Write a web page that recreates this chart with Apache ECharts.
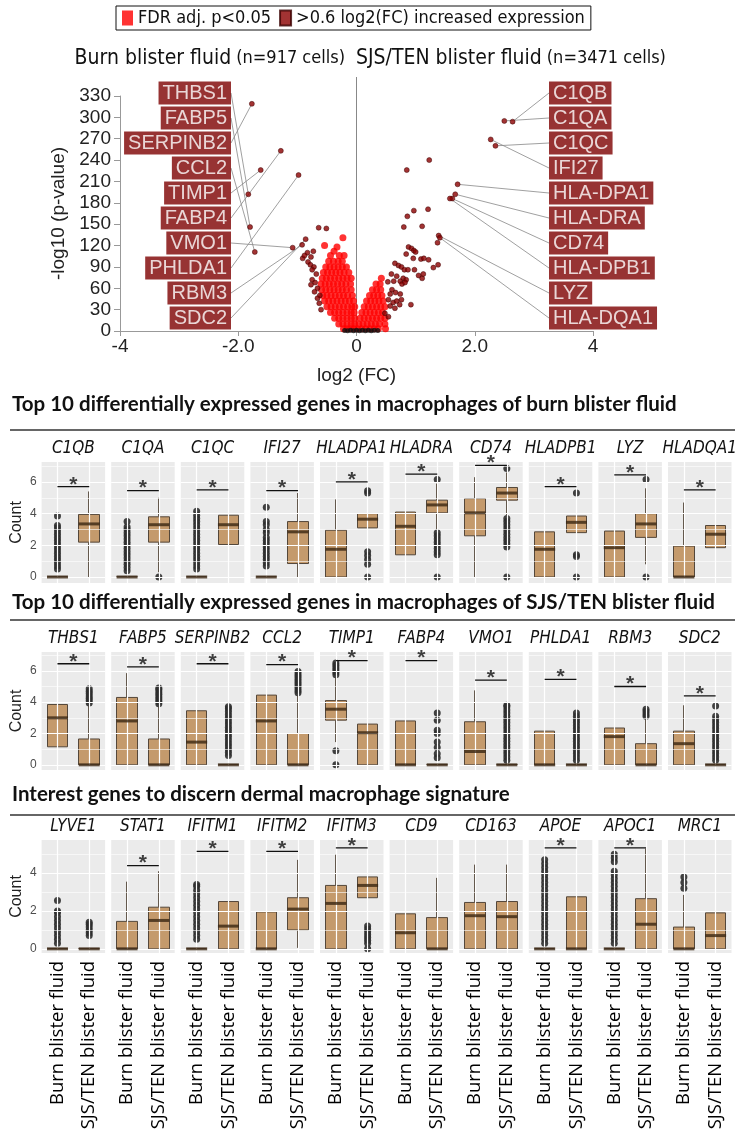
<!DOCTYPE html>
<html>
<head>
<meta charset="utf-8">
<script src="https://cdn.jsdelivr.net/npm/echarts@6/dist/echarts.min.js"></script>
<style>
html, body { margin: 0; padding: 0; background: #fff; }
#main { width: 741px; height: 1140px; }
</style>
</head>
<body>
<div id="main"></div>
<script>
// ---------- volcano data ----------
var legendNames = ['FDR adj. p<0.05', '>0.6 log2(FC) increased expression'];
var volcanoTitles = ['Burn blister fluid', '(n=917 cells)', 'SJS/TEN blister fluid', '(n=3471 cells)'];
var xTickLabels = ['-4', '-2.0', '0', '2.0', '4'];

var leftGenes = ['THBS1', 'FABP5', 'SERPINB2', 'CCL2', 'TIMP1', 'FABP4', 'VMO1', 'PHLDA1', 'RBM3', 'SDC2'];
var leftFC = [-1.83, -1.80, -1.77, -1.72, -1.62, -1.28, -1.08, -0.98, -0.92, -0.86];
var leftP = [192, 146, 319, 111, 226, 253, 117, 219, 121, 129];

var rightGenes = ['C1QB', 'C1QA', 'C1QC', 'IFI27', 'HLA-DPA1', 'HLA-DRA', 'CD74', 'HLA-DPB1', 'LYZ', 'HLA-DQA1'];
var rightFC = [2.64, 2.50, 2.35, 2.27, 1.71, 1.67, 1.62, 1.58, 1.39, 1.41];
var rightP = [294, 295, 260, 269, 206, 192, 186, 186, 134, 131];

// unlabeled points with |log2FC| > 0.6
var upPoints = [
  [-0.64, 145], [-0.51, 144], [-0.73, 112], [-0.91, 102], [-0.77, 104], [-0.83, 110], [-0.88, 106],
  [-0.82, 97], [-0.78, 93], [-0.72, 90], [-0.75, 86], [-0.68, 80], [-0.75, 72], [-0.70, 68],
  [-0.77, 65], [-0.66, 60], [-0.71, 55], [-0.62, 50], [-0.66, 46], [-0.63, 39], [-0.60, 30],
  [1.23, 240], [0.85, 226], [0.97, 169], [1.21, 171], [0.86, 161], [1.11, 147], [0.80, 146],
  [1.37, 124], [0.88, 118], [0.93, 116], [0.97, 113], [1.00, 111], [0.84, 108], [0.96, 102],
  [1.09, 101], [1.14, 102], [1.22, 100], [1.30, 89], [1.38, 93], [0.65, 95], [0.71, 92],
  [0.76, 90], [0.81, 86], [0.87, 86], [0.98, 86], [0.59, 80], [0.68, 77], [0.79, 74],
  [0.84, 72], [1.05, 78], [1.11, 74], [1.13, 80], [0.53, 69], [0.63, 70], [0.74, 70],
  [0.77, 66], [0.82, 68], [0.60, 58], [0.66, 54], [0.74, 52], [0.57, 52], [0.54, 44],
  [0.62, 40], [0.68, 42], [0.76, 44], [0.57, 35], [0.65, 32], [0.73, 37], [0.92, 37],
  [0.48, 25], [0.54, 20]
];

// FDR significant points
var sigPoints = [
  [-0.22, 3], [-0.16, 3], [-0.10, 3], [-0.04, 3],
  [-0.30, 10], [-0.23, 10], [-0.16, 10], [-0.09, 10], [-0.03, 10],
  [-0.37, 18], [-0.30, 18], [-0.23, 18], [-0.16, 18], [-0.09, 18], [-0.03, 18],
  [-0.44, 26], [-0.37, 26], [-0.30, 26], [-0.23, 26], [-0.16, 26], [-0.09, 26], [-0.04, 26],
  [-0.50, 34], [-0.43, 34], [-0.36, 34], [-0.29, 34], [-0.22, 34], [-0.15, 34], [-0.08, 34], [-0.03, 34],
  [-0.54, 42], [-0.47, 42], [-0.40, 42], [-0.33, 42], [-0.26, 42], [-0.19, 42], [-0.12, 42], [-0.05, 42],
  [-0.57, 50], [-0.50, 50], [-0.43, 50], [-0.36, 50], [-0.29, 50], [-0.22, 50], [-0.15, 50], [-0.07, 50],
  [-0.59, 58], [-0.52, 58], [-0.45, 58], [-0.38, 58], [-0.31, 58], [-0.24, 58], [-0.17, 58], [-0.09, 58],
  [-0.60, 66], [-0.53, 66], [-0.46, 66], [-0.39, 66], [-0.32, 66], [-0.25, 66], [-0.18, 66], [-0.10, 66],
  [-0.58, 74], [-0.51, 74], [-0.44, 74], [-0.37, 74], [-0.30, 74], [-0.23, 74], [-0.16, 74], [-0.09, 74],
  [-0.56, 82], [-0.49, 82], [-0.42, 82], [-0.35, 82], [-0.28, 82], [-0.21, 82], [-0.13, 82],
  [-0.52, 90], [-0.45, 90], [-0.38, 90], [-0.31, 90], [-0.24, 90], [-0.17, 90],
  [-0.47, 98], [-0.39, 98], [-0.31, 98], [-0.24, 98],
  [-0.44, 106], [-0.29, 106], [-0.21, 106], [-0.38, 112],
  [-0.54, 120], [-0.33, 118], [-0.23, 131],
  [0.02, 3], [0.09, 3], [0.16, 3], [0.23, 3], [0.30, 3], [0.37, 3], [0.49, 3],
  [0.04, 10], [0.11, 10], [0.18, 10], [0.25, 10], [0.32, 10], [0.39, 10], [0.48, 10],
  [0.06, 18], [0.13, 18], [0.20, 18], [0.27, 18], [0.34, 18], [0.41, 18], [0.48, 18],
  [0.09, 26], [0.16, 26], [0.23, 26], [0.30, 26], [0.37, 26], [0.44, 26],
  [0.13, 34], [0.20, 34], [0.27, 34], [0.34, 34], [0.41, 34], [0.48, 34],
  [0.17, 42], [0.24, 42], [0.31, 42], [0.38, 42], [0.45, 42],
  [0.22, 50], [0.29, 50], [0.36, 50], [0.43, 50],
  [0.27, 58], [0.34, 58], [0.41, 58],
  [0.33, 66], [0.40, 66], [0.42, 74]
];

// not significant
var nsPoints = [
  [-0.20, 0.8], [-0.15, 0.5], [-0.10, 1], [-0.05, 0.5], [0, 1], [0.05, 0.5],
  [0.10, 1], [0.15, 0.5], [0.20, 1], [0.25, 0.5], [0.30, 1], [0.36, 0.6]
];

// ---------- box plot data: [min, Q1, median, Q3, max] ----------
var groups = ['Burn blister fluid', 'SJS/TEN blister fluid'];

var row1Title = 'Top 10 differentially expressed genes in macrophages of burn blister fluid';
var row1Genes = ['C1QB', 'C1QA', 'C1QC', 'IFI27', 'HLADPA1', 'HLADRA', 'CD74', 'HLADPB1', 'LYZ', 'HLADQA1'];
var row1Burn = [[0, 0, 0, 0, 0], [0, 0, 0, 0, 0], [0, 0, 0, 0, 0], [0, 0, 0, 0, 0], [0, 0, 1.75, 2.95, 4.9],
  [0, 1.4, 3.2, 4.1, 5.5], [0, 2.6, 4.05, 4.95, 6.3], [0, 0, 1.75, 2.85, 4.8], [0, 0, 1.85, 2.9, 5.3], [0, 0, 0, 1.95, 4.7]];
var row1Sjs = [[0, 2.2, 3.35, 3.95, 5.4], [0.3, 2.2, 3.3, 3.8, 5.0], [0, 2.05, 3.3, 3.9, 5.3], [0, 0.85, 2.85, 3.5, 5.3],
  [2.0, 3.1, 3.65, 4.0, 5.2], [3.0, 4.05, 4.55, 4.85, 5.9], [3.9, 4.85, 5.3, 5.65, 6.6], [1.6, 2.8, 3.45, 3.85, 5.0],
  [0.8, 2.5, 3.35, 4.0, 5.6], [0, 1.85, 2.7, 3.25, 5.2]];
var row1BurnOut = [
  [0.5, 0.7, 0.9, 1.1, 1.3, 1.5, 1.7, 1.9, 2.1, 2.3, 2.5, 2.7, 2.9, 3.1, 3.25, 3.85],
  [0.4, 0.6, 0.8, 1.0, 1.2, 1.4, 1.6, 1.8, 2.0, 2.2, 2.4, 2.6, 2.8, 3.0, 3.15, 3.5],
  [0.5, 0.7, 0.9, 1.1, 1.3, 1.5, 1.7, 1.9, 2.1, 2.3, 2.5, 2.7, 2.9, 3.1, 3.3, 3.5, 3.7, 3.9, 4.15],
  [0.7, 0.9, 1.1, 1.3, 1.5, 1.7, 1.9, 2.1, 2.3, 2.5, 2.8, 3.0, 3.3, 3.5, 4.4],
  [], [], [], [], [], []];
var row1SjsOut = [[], [0], [], [], [0, 0.8, 1.1, 1.35, 1.6, 5.3, 5.45],
  [0, 1.4, 1.6, 1.8, 2.0, 2.2, 2.4, 2.6, 2.8, 6.15],
  [0, 1.9, 2.1, 2.3, 2.5, 2.7, 2.9, 3.1, 3.3, 3.5, 3.7, 6.85],
  [0, 1.3, 1.4, 5.3], [0, 6.15], []];
var row1Bars = [5.7, 5.45, 5.5, 5.45, 6.0, 6.5, 7.05, 5.7, 6.45, 5.5];

var row2Title = 'Top 10 differentially expressed genes in macrophages of SJS/TEN blister fluid';
var row2Genes = ['THBS1', 'FABP5', 'SERPINB2', 'CCL2', 'TIMP1', 'FABP4', 'VMO1', 'PHLDA1', 'RBM3', 'SDC2'];
var row2Burn = [[0.05, 1.15, 3.0, 3.85, 6.35], [0, 0, 2.8, 4.3, 5.85], [0, 0, 1.45, 3.45, 6.25], [0, 0, 2.8, 4.45, 6.8],
  [1.45, 2.85, 3.55, 4.1, 5.65], [0, 0, 0, 2.8, 6.4], [0, 0, 0.85, 2.75, 4.75], [0, 0, 0, 2.15, 4.6],
  [0, 0, 1.8, 2.35, 4.35], [0, 0, 1.35, 2.15, 3.8]];
var row2Sjs = [[0, 0, 0, 1.65, 3.9], [0, 0, 0, 1.65, 3.85], [0, 0, 0, 0, 0], [0, 0, 0, 2.0, 4.5], [0, 0, 2.05, 2.6, 4.75],
  [0, 0, 0, 0, 0], [0, 0, 0, 0, 0], [0, 0, 0, 0, 0], [0, 0, 0, 1.35, 3.0], [0, 0, 0, 0, 0]];
var row2BurnOut = [[], [], [], [], [0, 0.9, 5.75, 5.9, 6.05, 6.2, 6.35, 6.5], [], [], [], [], []];
var row2SjsOut = [
  [3.95, 4.1, 4.25, 4.4, 4.55, 4.7, 4.85],
  [3.9, 4.05, 4.2, 4.35, 4.5, 4.65, 4.8, 4.9],
  [0.6, 0.8, 1.0, 1.2, 1.4, 1.6, 1.8, 2.0, 2.2, 2.4, 2.6, 2.8, 3.0, 3.2, 3.4, 3.6, 3.7],
  [4.6, 4.75, 4.9, 5.05, 5.2, 5.35, 5.5, 5.65, 5.8, 5.95],
  [],
  [0.45, 0.7, 1.1, 1.45, 2.0, 2.2, 2.85, 3.3],
  [0.3, 0.5, 0.7, 0.9, 1.1, 1.3, 1.5, 1.7, 1.9, 2.1, 2.3, 2.5, 2.7, 2.9, 3.1, 3.3, 3.5, 3.7, 3.8],
  [0.3, 0.5, 0.7, 0.9, 1.1, 1.3, 1.5, 1.7, 1.9, 2.1, 2.3, 2.5, 2.7, 2.9, 3.1, 3.3],
  [3.1, 3.25, 3.4, 3.55],
  [0.3, 0.5, 0.7, 0.9, 1.1, 1.3, 1.5, 1.7, 1.9, 2.1, 2.3, 2.5, 2.7, 2.9, 3.1, 3.75]];
var row2Bars = [6.45, 6.25, 6.45, 6.4, 6.65, 6.65, 5.4, 5.45, 5.0, 4.4];

var row3Title = 'Interest genes to discern dermal macrophage signature';
var row3Genes = ['LYVE1', 'STAT1', 'IFITM1', 'IFITM2', 'IFITM3', 'CD9', 'CD163', 'APOE', 'APOC1', 'MRC1'];
var row3Burn = [[0, 0, 0, 0, 0], [0, 0, 0, 1.45, 3.55], [0, 0, 0, 0, 0], [0, 0, 0, 1.95, 3.8], [0, 0, 2.4, 3.35, 5.0],
  [0, 0, 0.85, 1.85, 3.8], [0, 0, 1.75, 2.45, 4.45], [0, 0, 0, 0, 0], [0, 0, 0, 0, 0], [0, 0, 0, 1.15, 2.85]];
var row3Sjs = [[0, 0, 0, 0, 0], [0, 0, 1.5, 2.2, 4.1], [0, 0, 1.2, 2.5, 4.8], [0.05, 1.0, 2.1, 2.7, 4.7], [1.35, 2.7, 3.35, 3.8, 5.2],
  [0, 0, 0, 1.65, 3.75], [0, 0, 1.7, 2.5, 4.45], [0, 0, 0, 2.75, 5.3], [0, 0, 1.3, 2.65, 5.3], [0, 0, 0.7, 1.9, 3.85]];
var row3BurnOut = [
  [0.3, 0.5, 0.7, 0.9, 1.1, 1.3, 1.5, 1.7, 1.9, 2.0, 2.55],
  [],
  [0.5, 0.7, 0.9, 1.1, 1.3, 1.5, 1.7, 1.9, 2.1, 2.3, 2.5, 2.7, 2.9, 3.1, 3.3, 3.4],
  [], [], [], [],
  [0.3, 0.5, 0.7, 0.9, 1.1, 1.3, 1.5, 1.7, 1.9, 2.1, 2.3, 2.5, 2.7, 2.9, 3.1, 3.3, 3.5, 3.7, 3.9, 4.1, 4.3, 4.5, 4.7],
  [0.3, 0.5, 0.7, 0.9, 1.1, 1.3, 1.5, 1.7, 1.9, 2.1, 2.3, 2.5, 2.7, 2.9, 3.1, 3.3, 3.5, 3.7, 3.9, 4.1, 4.6, 4.8, 5.0],
  [3.2, 3.5, 3.8]];
var row3SjsOut = [[0.7, 0.85, 1.0, 1.15, 1.3, 1.4], [], [], [], [0, 0.3, 0.45, 0.6, 0.75, 0.9, 1.05, 1.2], [], [], [], [], []];
var row3Bars = [null, 4.4, 5.15, 5.15, 5.33, null, null, 5.33, 5.33, null];

// ---------- layout ----------
var NARROW = "'DejaVu Sans Condensed', 'Liberation Sans', sans-serif";
var ARIAL = "'Liberation Sans', Arial, sans-serif";
var panelLeft = 41.6, panelPitch = 69.6, panelWidth = 63.5;
var rowTop = [462, 652, 840];
var rowBottom = [583, 770, 953];
var rowYMin = [-0.38, -0.33, -0.22];
var rowYMax = [7.26, 7.2, 5.75];
var rowTicks = [[0, 2, 4, 6], [0, 2, 4, 6], [0, 2, 4]];
var rowMinor = [[1, 3, 5, 7], [1, 3, 5, 7], [1, 3, 5]];
var sectionTop = [394, 592, 784];
var underlineY = [430, 620, 815];

var rows = [
  {title: row1Title, genes: row1Genes, burn: row1Burn, sjs: row1Sjs, burnOut: row1BurnOut, sjsOut: row1SjsOut, bars: row1Bars},
  {title: row2Title, genes: row2Genes, burn: row2Burn, sjs: row2Sjs, burnOut: row2BurnOut, sjsOut: row2SjsOut, bars: row2Bars},
  {title: row3Title, genes: row3Genes, burn: row3Burn, sjs: row3Sjs, burnOut: row3BurnOut, sjsOut: row3SjsOut, bars: row3Bars}
];

var myChart = echarts.init(document.getElementById('main'));

var grids = [
  {left: 120, width: 473, top: 96, bottom: 809},
  {left: 120, width: 473, top: 77, bottom: 809}
];
var xAxes = [
  {
    gridIndex: 0, type: 'value', min: -4, max: 4, interval: 2,
    name: 'log2 (FC)', nameLocation: 'middle', nameGap: 35,
    nameTextStyle: {fontFamily: ARIAL, fontSize: 19, color: '#222'},
    axisLine: {onZero: false, lineStyle: {color: '#999'}},
    axisTick: {length: 5, lineStyle: {color: '#999'}},
    axisLabel: {
      fontFamily: ARIAL, fontSize: 19, color: '#222', margin: 6,
      formatter: function (v) { return xTickLabels[Math.round((v + 4) / 2)]; }
    },
    splitLine: {show: false}
  },
  {gridIndex: 1, type: 'value', min: -4, max: 4, show: false}
];
var yAxes = [
  {
    gridIndex: 0, type: 'value', min: 0, max: 330, interval: 30,
    name: '-log10 (p-value)', nameLocation: 'middle', nameGap: 35,
    nameTextStyle: {fontFamily: ARIAL, fontSize: 19, color: '#222'},
    axisLine: {show: true, onZero: false, lineStyle: {color: '#999'}},
    axisTick: {show: true, length: 6, lineStyle: {color: '#999'}},
    axisLabel: {fontFamily: ARIAL, fontSize: 19, color: '#222', margin: 9},
    splitLine: {show: false}
  },
  {gridIndex: 1, type: 'value', min: 0, max: 1, show: false}
];

function labeledSeries(genes, fc, p, side) {
  return {
    name: legendNames[1], type: 'scatter', xAxisIndex: 0, yAxisIndex: 0,
    data: genes.map(function (g, i) { return {name: g, value: [fc[i], p[i]]}; }),
    symbolSize: 5,
    itemStyle: {color: '#8b0000', borderColor: '#3a0000', borderWidth: 0.6},
    label: {
      show: true, formatter: '{b}', color: '#fff', backgroundColor: '#7d0000',
      fontFamily: ARIAL, fontSize: 20, lineHeight: 23, padding: [0, 4, 0, 4]
    },
    labelLine: {show: true, lineStyle: {color: '#888', width: 0.8}},
    labelLayout: function (params) {
      return {
        x: side === 'left' ? 231 : 549,
        y: 93 + 25 * params.dataIndex,
        align: side === 'left' ? 'right' : 'left',
        verticalAlign: 'middle'
      };
    },
    z: 5
  };
}

var series = [
  {type: 'line', xAxisIndex: 1, yAxisIndex: 1, data: [[0, 0], [0, 1]], symbol: 'none', silent: true,
    lineStyle: {color: '#888', width: 1}, z: 1},
  {name: legendNames[0], type: 'scatter', xAxisIndex: 0, yAxisIndex: 0, data: sigPoints, symbolSize: 7,
    itemStyle: {color: '#ff0000'}, z: 2},
  {name: 'ns', type: 'scatter', xAxisIndex: 0, yAxisIndex: 0, data: nsPoints, symbolSize: 5,
    itemStyle: {color: '#111'}, z: 3},
  {name: legendNames[1], type: 'scatter', xAxisIndex: 0, yAxisIndex: 0, data: upPoints, symbolSize: 5,
    itemStyle: {color: '#8b0000', borderColor: '#3a0000', borderWidth: 0.6}, z: 4},
  labeledSeries(leftGenes, leftFC, leftP, 'left'),
  labeledSeries(rightGenes, rightFC, rightP, 'right')
];

var richTitle = {
  a: {fontFamily: NARROW, fontWeight: 'normal', fontSize: 21, color: '#111'},
  b: {fontFamily: NARROW, fontWeight: 'normal', fontSize: 18, color: '#111'}
};
var titles = [
  {
    text: '{a|' + volcanoTitles[0] + '} {b|' + volcanoTitles[1] + '}',
    left: 345, top: 48, textAlign: 'right', padding: 0,
    textStyle: {fontWeight: 'normal', rich: richTitle}
  },
  {
    text: '{a|' + volcanoTitles[2] + '} {b|' + volcanoTitles[3] + '}',
    left: 356, top: 48, textAlign: 'left', padding: 0,
    textStyle: {fontWeight: 'normal', rich: richTitle}
  }
];
var graphics = [];

rows.forEach(function (row, r) {
  titles.push({
    text: row.title, left: 12, top: sectionTop[r], padding: 0,
    textStyle: {fontFamily: 'Lato, sans-serif', fontWeight: 'bold', fontSize: 20.5, color: '#111'}
  });
  graphics.push({type: 'line', shape: {x1: 10, y1: underlineY[r], x2: 735, y2: underlineY[r]},
    style: {stroke: '#333', lineWidth: 1.3}});

  row.genes.forEach(function (gene, i) {
    var k = r * 10 + i;
    var g = 2 + k;
    var cx = 2 + 2 * k, vx = 3 + 2 * k, y = 2 + k;
    var left = panelLeft + i * panelPitch;
    var first = i === 0;

    titles.push({
      text: gene, left: left + panelWidth / 2, top: rowTop[r] - 22, textAlign: 'center', padding: 0,
      textStyle: {fontFamily: NARROW, fontStyle: 'italic', fontWeight: 'normal', fontSize: 17, color: '#111'}
    });

    grids.push({left: left, width: panelWidth, top: rowTop[r], bottom: 1140 - rowBottom[r],
      show: true, backgroundColor: '#ebebeb', borderWidth: 0});

    xAxes.push({
      gridIndex: g, type: 'category', data: groups, boundaryGap: true,
      axisLine: {show: false},
      axisTick: {show: r === 2, alignWithLabel: true, length: 4, lineStyle: {color: '#333'}},
      axisLabel: {show: r === 2, rotate: 90, interval: 0, margin: 8,
        fontFamily: "'Open Sans', sans-serif", fontSize: 18.5, color: '#000'},
      splitLine: {show: false}
    });
    xAxes.push({gridIndex: g, type: 'value', min: -0.5, max: 1.5, show: false});

    yAxes.push({
      gridIndex: g, type: 'value', min: rowYMin[r], max: rowYMax[r],
      name: first ? 'Count' : '', nameLocation: 'middle', nameGap: 17,
      nameTextStyle: {fontFamily: ARIAL, fontSize: 16, color: '#222'},
      axisLine: {show: false},
      axisTick: {show: first, customValues: rowTicks[r], length: 3, lineStyle: {color: '#333'}},
      axisLabel: {show: first, customValues: rowTicks[r], fontFamily: ARIAL, fontSize: 12, color: '#4d4d4d', margin: 5},
      splitLine: {show: false}
    });

    var gridLines = rowTicks[r].map(function (v) { return {yAxis: v, lineStyle: {width: 1.2}}; })
      .concat(rowMinor[r].map(function (v) { return {yAxis: v, lineStyle: {width: 0.6}}; }))
      .concat([{xAxis: 0, lineStyle: {width: 1.2}}, {xAxis: 1, lineStyle: {width: 1.2}}]);

    series.push({
      type: 'line', xAxisIndex: vx, yAxisIndex: y, data: [], silent: true, z: 1,
      markLine: {silent: true, symbol: 'none', label: {show: false}, animation: false,
        lineStyle: {color: '#fff', type: 'solid'}, data: gridLines}
    });

    // box from Q1 to Q3, whiskers to min / max (ggplot style, no caps)
    var boxes = [row.burn[i], row.sjs[i]].map(function (q) { return [q[1], q[3], q[0], q[4]]; });
    series.push({
      type: 'candlestick', xAxisIndex: cx, yAxisIndex: y, z: 3, barWidth: 21,
      itemStyle: {color: '#c49a6c', color0: '#c49a6c', borderColor: '#54473a', borderColor0: '#54473a',
        borderColorDoji: '#54473a', borderWidth: 1},
      data: boxes
    });

    var outs = row.burnOut[i].map(function (v) { return [0, v]; })
      .concat(row.sjsOut[i].map(function (v) { return [1, v]; }));
    series.push({
      type: 'scatter', xAxisIndex: cx, yAxisIndex: y, z: 4, symbolSize: 7,
      itemStyle: {color: '#2e2e2e', opacity: 0.9}, data: outs
    });

    series.push({
      type: 'scatter', xAxisIndex: cx, yAxisIndex: y, z: 5, symbol: 'rect', symbolSize: [21, 3],
      itemStyle: {color: '#3a2512'}, data: [[0, row.burn[i][2]], [1, row.sjs[i][2]]]
    });

    var bar = row.bars[i];
    if (bar !== null) {
      series.push({
        type: 'line', xAxisIndex: vx, yAxisIndex: y, z: 6, silent: true, symbol: 'none',
        lineStyle: {color: '#111', width: 1.3}, data: [[0, bar], [1, bar]]
      });
      series.push({
        type: 'scatter', xAxisIndex: vx, yAxisIndex: y, z: 6, silent: true, symbolSize: 1,
        itemStyle: {color: 'transparent'}, data: [[0.5, bar]],
        label: {show: true, position: 'inside', offset: [0, -2], formatter: '*',
          fontFamily: ARIAL, fontWeight: 'bold', fontSize: 21, color: '#111'}
      });
    }
  });
});

var option = {
  animation: false,
  backgroundColor: '#fff',
  title: titles,
  legend: {
    data: legendNames, left: 116, top: 6, icon: 'rect', itemWidth: 11, itemHeight: 15, itemGap: 8,
    padding: [3, 6, 3, 6], borderColor: '#111', borderWidth: 1,
    textStyle: {fontFamily: NARROW, fontSize: 18, color: '#111'}
  },
  grid: grids,
  xAxis: xAxes,
  yAxis: yAxes,
  series: series,
  graphic: graphics
};
myChart.setOption(option, true);
</script>
</body>
</html>
